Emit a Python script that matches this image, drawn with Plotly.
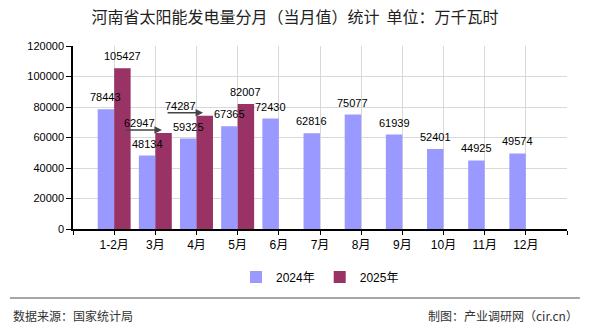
import plotly.graph_objects as go

categories = ["1-2月", "3月", "4月", "5月", "6月", "7月", "8月", "9月", "10月", "11月", "12月"]
values_2024 = [78443, 48134, 59325, 67365, 72430, 62816, 75077, 61939, 52401, 44925, 49574]
values_2025 = [105427, 62947, 74287, 82007]
series_names = ["2024年", "2025年"]
y_ticks = [0, 20000, 40000, 60000, 80000, 100000, 120000]
title_text = "河南省太阳能发电量分月（当月值）统计  单位：万千瓦时"
source_text = "数据来源：国家统计局"
credit_text = "制图：产业调研网（cir.cn）"

C2024 = "#9999FF"
C2025 = "#993366"
FONT = "Liberation Sans, Noto Sans CJK SC, sans-serif"
CJK = "Noto Sans CJK SC, sans-serif"

pos24 = list(range(1, len(values_2024) + 1))
pos25 = list(range(1, len(values_2025) + 1))

fig = go.Figure()
fig.add_trace(go.Bar(x=pos24, y=values_2024, name=series_names[0], marker_color=C2024,
                     offset=-0.4, width=0.4, marker_line_width=0))
fig.add_trace(go.Bar(x=pos25, y=values_2025, name=series_names[1], marker_color=C2025,
                     offset=0.0, width=0.4, marker_line_width=0))

annotations = []
# labels that are shifted left with a leader arrow (2025 series)
shifted = {1: -24, 2: -24}
for i, v in enumerate(values_2024):
    annotations.append(dict(x=pos24[i] - 0.2, y=v, text=str(v), showarrow=False,
                            yanchor="middle", yshift=12, font=dict(size=11, color="#000", family=FONT)))
for i, v in enumerate(values_2025):
    xs = shifted.get(i, 0)
    annotations.append(dict(x=pos25[i] + 0.2, y=v, text=str(v), showarrow=False, xshift=xs,
                            yanchor="middle", yshift=12 if xs == 0 else 10,
                            font=dict(size=11, color="#000", family=FONT)))
    if xs:
        annotations.append(dict(x=pos25[i] + 0.16, y=v, text="", showarrow=True, ax=-37, ay=0,
                                yshift=3, arrowhead=2, arrowsize=1, arrowwidth=1.5,
                                arrowcolor="#444"))

annotations.append(dict(xref="paper", yref="paper", x=-0.1255, y=-0.475, text=source_text,
                        showarrow=False, xanchor="left", yanchor="middle",
                        font=dict(size=12, color="#333", family=CJK)))
annotations.append(dict(xref="paper", yref="paper", x=1.026, y=-0.475, text=credit_text,
                        showarrow=False, xanchor="right", yanchor="middle",
                        font=dict(size=12, color="#333", family=CJK)))

fig.update_layout(
    width=590, height=330,
    margin=dict(l=73, r=23, t=46, b=101, pad=0),
    paper_bgcolor="white", plot_bgcolor="white",
    title=dict(text=title_text, x=0.5, xanchor="center", y=1 - 17 / 330, yanchor="middle",
               font=dict(size=16, color="#222", family=CJK)),
    barmode="overlay",
    showlegend=True,
    legend=dict(orientation="h", x=0.5, xanchor="center", y=-0.262, yanchor="middle",
                font=dict(size=12, color="#000", family=FONT), itemwidth=30),
    annotations=annotations,
    shapes=[dict(type="line", xref="paper", yref="paper", x0=-0.1275, x1=1.026,
                 y0=-0.377, y1=-0.377, line=dict(color="#888", width=1.5))],
    xaxis=dict(range=[0, 12], tickmode="array", tickvals=list(range(0, 13)),
               ticktext=[""] + categories + [""], showgrid=True, gridcolor="#d9d9d9", gridwidth=1,
               showline=True, linecolor="#000", linewidth=1.5, ticks="outside", ticklen=4,
               tickcolor="#000", tickfont=dict(size=12, color="#000", family=FONT), zeroline=False),
    yaxis=dict(range=[0, 120000], tickmode="array", tickvals=y_ticks,
               ticktext=[str(t) for t in y_ticks], showgrid=True, gridcolor="#d9d9d9", gridwidth=1,
               showline=True, linecolor="#000", linewidth=1.5, ticks="outside", ticklen=5,
               tickcolor="#000", tickfont=dict(size=11, color="#000", family=FONT), zeroline=False),
)

fig.write_html("out.html")
